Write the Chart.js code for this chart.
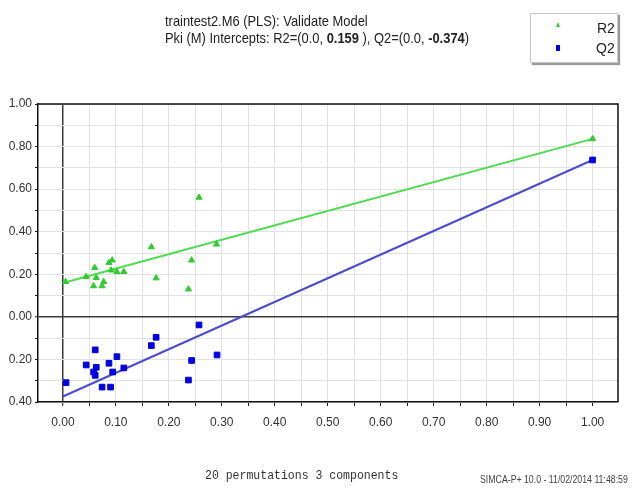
<!DOCTYPE html>
<html>
<head>
<meta charset="utf-8">
<script src="https://cdn.jsdelivr.net/npm/chart.js@4/dist/chart.umd.min.js"></script>
<style>
  body { margin: 0; background: #fff; }
  #wrap { position: relative; width: 632px; height: 490px; overflow: hidden; font-family: "Liberation Sans", Arial, sans-serif; color: #222; }
  #chart { position: absolute; left: 0; top: 0; }
  .txt { position: absolute; white-space: nowrap; }
  #title { left: 165px; top: 12px; font-size: 15px; line-height: 17px; transform: scaleX(0.86); transform-origin: 0 0; }
  #legend { left: 530px; top: 13px; width: 88px; height: 50px; box-sizing: border-box; border: 1px solid #c8c8c8; box-shadow: 2px 2px 1px #9a9a9a; background: #fff; position: absolute; }
  .lg { font-size: 14px; line-height: 16px; color: #222; }
  #tri { position: absolute; left: 556px; top: 22px; width: 0; height: 0; border-left: 2px solid transparent; border-right: 2px solid transparent; border-bottom: 5px solid #2ecc2e; }
  #sq { position: absolute; left: 556px; top: 45px; width: 4px; height: 6px; background: #0000e0; }
  #perm { left: 205px; top: 468px; font-family: "Liberation Mono", "Courier New", monospace; font-size: 13px; line-height: 15px; color: #333; transform: scaleX(0.885); transform-origin: 0 0; }
  #stamp { left: 480px; top: 474px; font-size: 10px; line-height: 12px; color: #444; transform: scaleX(0.875); transform-origin: 0 0; }
</style>
</head>
<body>
<div id="wrap">
  <canvas id="chart" width="632" height="490"></canvas>
  <div class="txt" id="title">traintest2.M6 (PLS): Validate Model<br>Pki (M) Intercepts: R2=(0.0, <b>0.159</b> ), Q2=(0.0, <b>-0.374</b>)</div>
  <div id="legend"></div>
  <div id="tri"></div>
  <div id="sq"></div>
  <div class="txt lg" style="left:597px; top:20px;">R2</div>
  <div class="txt lg" style="left:596px; top:40px;">Q2</div>
  <div class="txt" id="perm">20 permutations 3 components</div>
  <div class="txt" id="stamp">SIMCA-P+ 10.0 - 11/02/2014 11:48:59</div>
</div>
<script>
// correlation of permuted y with original y (x) and the R2 / Q2 values
const r2X = [0.005, 0.044, 0.058, 0.060, 0.063, 0.074, 0.077, 0.087, 0.091, 0.093, 0.102, 0.115, 0.167, 0.176, 0.237, 0.243, 0.257, 0.290, 1.0];
const r2Y = [0.165, 0.188, 0.145, 0.231, 0.184, 0.145, 0.165, 0.254, 0.219, 0.266, 0.211, 0.212, 0.328, 0.182, 0.130, 0.266, 0.561, 0.341, 0.836];
const q2X = [0.006, 0.044, 0.058, 0.061, 0.061, 0.063, 0.074, 0.087, 0.090, 0.094, 0.102, 0.115, 0.167, 0.176, 0.237, 0.243, 0.257, 0.291, 1.0];
const q2Y = [-0.309, -0.226, -0.259, -0.155, -0.275, -0.237, -0.330, -0.218, -0.330, -0.259, -0.187, -0.240, -0.135, -0.096, -0.297, -0.205, -0.038, -0.179, 0.737];

// intercept lines, from x = 0 to the original model at x = 1
const r2Line = [0.159, 0.836];
const q2Line = [-0.374, 0.737];
const lineX = [0, 1];

const xTickValues = [0, 0.1, 0.2, 0.3, 0.4, 0.5, 0.6, 0.7, 0.8, 0.9, 1.0];
const xTickLabels = ["0.00", "0.10", "0.20", "0.30", "0.40", "0.50", "0.60", "0.70", "0.80", "0.90", "1.00"];
const yTickValues = [-0.4, -0.2, 0, 0.2, 0.4, 0.6, 0.8, 1.0];
const yTickLabels = ["0.40", "0.20", "0.00", "0.20", "0.40", "0.60", "0.80", "1.00"];

function pick(values, labels, v) {
  const i = values.findIndex((t) => Math.abs(t - v) < 1e-6);
  return i < 0 ? "" : labels[i];
}

function zip(xs, ys) {
  return xs.map((x, i) => ({ x: x, y: ys[i] }));
}

const gridColor = (ctx) => (ctx.tick && Math.abs(ctx.tick.value) < 1e-9 ? "#3a3a3a" : "#e2e2e2");
const gridWidth = (ctx) => (ctx.tick && Math.abs(ctx.tick.value) < 1e-9 ? 1.5 : 1);

const frame = {
  id: "frame",
  afterDatasetsDraw(chart) {
    const a = chart.chartArea;
    const c = chart.ctx;
    c.save();
    c.strokeStyle = "#111";
    c.lineWidth = 1.5;
    c.beginPath();
    c.moveTo(a.left, a.top);
    c.lineTo(a.right, a.top);
    c.lineTo(a.right, a.bottom);
    c.stroke();
    c.restore();
  },
};

new Chart(document.getElementById("chart"), {
  type: "scatter",
  data: {
    datasets: [
      {
        label: "R2",
        data: zip(r2X, r2Y),
        pointStyle: "triangle",
        pointRadius: 3.5,
        pointBorderWidth: 1,
        backgroundColor: "#2ecc2e",
        borderColor: "#2ecc2e",
      },
      {
        label: "Q2",
        data: zip(q2X, q2Y),
        pointStyle: "rect",
        pointRadius: 4,
        pointBorderWidth: 1,
        backgroundColor: "#0000e0",
        borderColor: "#0000e0",
      },
      {
        label: "R2 line",
        data: zip(lineX, r2Line),
        showLine: true,
        pointRadius: 0,
        borderColor: "#4ddd4d",
        borderWidth: 2,
      },
      {
        label: "Q2 line",
        data: zip(lineX, q2Line),
        showLine: true,
        pointRadius: 0,
        borderColor: "#4b4bd2",
        borderWidth: 2,
      },
    ],
  },
  options: {
    responsive: false,
    animation: false,
    layout: { padding: { left: 0, top: 104, right: 14, bottom: 48 } },
    plugins: { legend: { display: false }, tooltip: { enabled: false } },
    scales: {
      x: {
        type: "linear",
        min: -0.047,
        max: 1.048,
        afterBuildTicks(scale) {
          const t = [];
          for (let i = 0; i <= 20; i++) t.push({ value: Math.round(i * 5) / 100 });
          scale.ticks = t;
        },
        afterFit(scale) { scale.height = 40; },
        ticks: {
          autoSkip: false,
          maxRotation: 0,
          padding: 9,
          color: "#333",
          font: { family: "'Liberation Sans', Arial, sans-serif", size: 12 },
          callback: (v) => pick(xTickValues, xTickLabels, v),
        },
        grid: { color: gridColor, lineWidth: gridWidth, tickLength: 4, tickColor: "#222", tickWidth: 1 },
        border: { color: "#111", width: 1.5 },
      },
      y: {
        type: "linear",
        min: -0.4,
        max: 1.0,
        afterBuildTicks(scale) {
          const t = [];
          for (let i = -4; i <= 10; i++) t.push({ value: i / 10 });
          scale.ticks = t;
        },
        afterFit(scale) { scale.width = 38; },
        ticks: {
          autoSkip: false,
          padding: 3,
          color: "#333",
          font: { family: "'Liberation Sans', Arial, sans-serif", size: 12 },
          callback: (v) => pick(yTickValues, yTickLabels, v),
        },
        grid: { color: gridColor, lineWidth: gridWidth, tickLength: 3, tickColor: "#222", tickWidth: 1 },
        border: { color: "#111", width: 1.5 },
      },
    },
  },
  plugins: [frame],
});
</script>
</body>
</html>
